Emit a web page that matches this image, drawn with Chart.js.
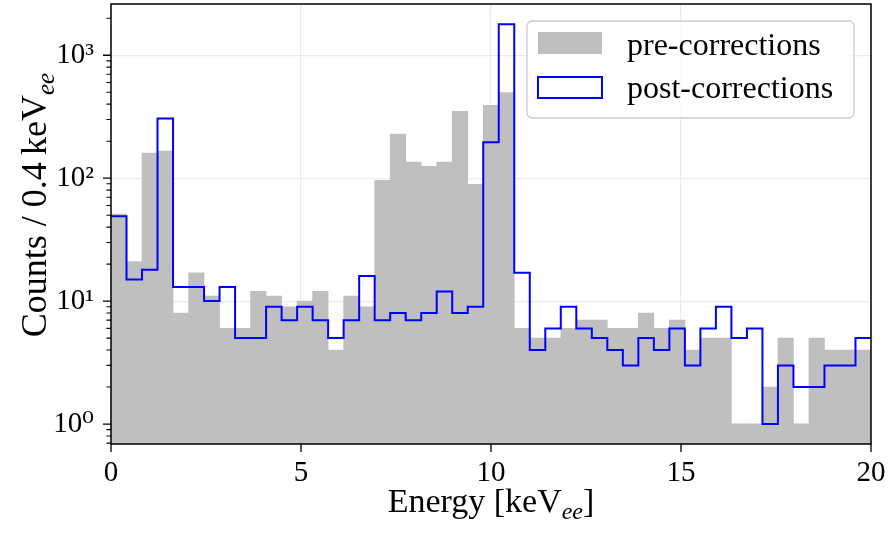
<!DOCTYPE html>
<html><head><meta charset="utf-8">
<script src="https://cdn.jsdelivr.net/npm/chart.js@4/dist/chart.umd.min.js"></script>
<style>html,body{margin:0;padding:0;background:#fff;}#wrap{width:889px;height:534px;}</style>
</head><body><div id="wrap"><canvas id="c" width="889" height="534"></canvas></div>
<script>
// ---- data ----
const X_MIN = 0, X_MAX = 20, BIN_COUNT = 49;
const PRE = [51,21,160,166,8,17,11,6,6,12,11,9,10,12,4,11,9,96,228,135,125,135,350,89,392,497,6,5,5,6,7,7,6,6,8,6,7,4,5,5,1,1,2,5,1,5,4,4,4];
const POST = [49,15,18,306,13,13,10,13,5,5,9,7,9,7,5,7,16,7,8,7,8,12,8,9,196,1786,17,4,6,9,6,5,4,3,5,4,6,3,6,9,5,6,1,3,2,2,3,3,5];
const SERIES_LABELS = ['pre-corrections', 'post-corrections'];
const X_TICKS = [0, 5, 10, 15, 20];
const Y_TICKS = [1, 10, 100, 1000];
const Y_TICK_LABELS = ['10\u2070', '10\u00b9', '10\u00b2', '10\u00b3'];
const Y_MINOR = [0.7,0.8,0.9,2,3,4,5,6,7,8,9,20,30,40,50,60,70,80,90,200,300,400,500,600,700,800,900,2000];
const Y_RANGE = [0.688, 2612];
const X_TITLE = ['Energy [keV', 'ee', ']'];
const Y_TITLE = ['Counts / 0.4\u2009keV', 'ee', ''];

const BW = (X_MAX - X_MIN) / BIN_COUNT;
const edge = i => X_MIN + i * BW;

const FONT = "'Liberation Serif', 'DejaVu Serif', serif";
const GRAY = '#bfbfbf', BLUE = '#0000ff';

function drawSubText(ctx, parts, size, subSize) {
  ctx.font = size + 'px ' + FONT;
  const w1 = ctx.measureText(parts[0]).width;
  const w3 = ctx.measureText(parts[2]).width;
  ctx.font = 'italic ' + subSize + 'px ' + FONT;
  const w2 = ctx.measureText(parts[1]).width;
  const total = w1 + w2 + w3;
  let x = -total / 2;
  ctx.textBaseline = 'alphabetic'; ctx.textAlign = 'left';
  ctx.font = size + 'px ' + FONT; ctx.fillText(parts[0], x, 0); x += w1;
  ctx.font = 'italic ' + subSize + 'px ' + FONT; ctx.fillText(parts[1], x, size * 0.22); x += w2;
  ctx.font = size + 'px ' + FONT; ctx.fillText(parts[2], x, 0);
}

const decor = {
  id: 'decor',
  afterDraw(chart) {
    const ctx = chart.ctx, a = chart.chartArea;
    const xs = chart.scales.x, ys = chart.scales.y;
    ctx.save();
    // spines
    ctx.strokeStyle = '#000'; ctx.lineWidth = 1.5;
    ctx.strokeRect(a.left, a.top, a.right - a.left, a.bottom - a.top);
    // ticks
    ctx.lineWidth = 1.3;
    ctx.beginPath();
    X_TICKS.forEach(v => { const p = xs.getPixelForValue(v); ctx.moveTo(p, a.bottom); ctx.lineTo(p, a.bottom + 8); });
    Y_TICKS.forEach(v => { const p = ys.getPixelForValue(v); ctx.moveTo(a.left, p); ctx.lineTo(a.left - 8, p); });
    ctx.stroke();
    ctx.lineWidth = 1.1;
    ctx.beginPath();
    Y_MINOR.forEach(v => { if (v < Y_RANGE[0] || v > Y_RANGE[1]) return; const p = ys.getPixelForValue(v); ctx.moveTo(a.left, p); ctx.lineTo(a.left - 4.5, p); });
    ctx.stroke();
    // axis titles
    ctx.fillStyle = '#000';
    ctx.save(); ctx.translate((a.left + a.right) / 2, 512); drawSubText(ctx, X_TITLE, 34, 24); ctx.restore();
    ctx.save(); ctx.translate(46, 205); ctx.rotate(-Math.PI / 2); drawSubText(ctx, Y_TITLE, 36, 25); ctx.restore();
    // legend
    const lx = a.right - 17, ly = a.top + 17, lw = 327, lh = 97;
    const bx = lx - lw, by = ly;
    ctx.beginPath();
    ctx.roundRect(bx, by, lw, lh, 5);
    ctx.fillStyle = 'rgba(255,255,255,0.8)'; ctx.fill();
    ctx.strokeStyle = '#cccccc'; ctx.lineWidth = 1.3; ctx.stroke();
    ctx.fillStyle = GRAY; ctx.fillRect(bx + 11, by + 11, 64, 22);
    ctx.strokeStyle = BLUE; ctx.lineWidth = 2; ctx.strokeRect(bx + 11, by + 56, 64, 21);
    ctx.fillStyle = '#000'; ctx.font = '32px ' + FONT; ctx.textAlign = 'left'; ctx.textBaseline = 'alphabetic';
    ctx.fillText(chart.data.datasets[0].label, bx + 100, by + 34);
    ctx.fillText(chart.data.datasets[1].label, bx + 100, by + 77);
    ctx.restore();
  }
};

const gridColor = '#ebebeb';
new Chart(document.getElementById('c'), {
  type: 'bar',
  data: {
    datasets: [
      {
        type: 'bar', label: SERIES_LABELS[0],
        data: PRE.map((v, i) => ({ x: edge(i) + BW / 2, y: v })),
        backgroundColor: GRAY, borderWidth: 0, barPercentage: 1, categoryPercentage: 1, grouped: false, order: 2
      },
      {
        type: 'line', label: SERIES_LABELS[1],
        data: POST.map((v, i) => ({ x: edge(i), y: v })).concat([{ x: X_MAX, y: POST[POST.length - 1] }]),
        stepped: 'before', borderColor: BLUE, borderWidth: 2, pointRadius: 0, fill: false, order: 1,
        borderJoinStyle: 'miter'
      }
    ]
  },
  options: {
    responsive: false, animation: false, devicePixelRatio: 1,
    layout: { padding: { top: 4, right: 18, left: 0, bottom: 0 } },
    plugins: { legend: { display: false }, tooltip: { enabled: false } },
    scales: {
      x: {
        type: 'linear', min: X_MIN, max: X_MAX, bounds: 'data', offset: false,
        afterBuildTicks: s => { s.ticks = X_TICKS.map(v => ({ value: v })); },
        afterFit: s => { s.height = 90; s.paddingLeft = 0; s.paddingRight = 0; },
        grid: { color: gridColor, lineWidth: 1.2, drawTicks: false, offset: false },
        border: { display: false },
        ticks: { font: { family: FONT, size: 29 }, color: '#000', padding: 12, maxRotation: 0, autoSkip: false }
      },
      y: {
        type: 'logarithmic', min: Y_RANGE[0], max: Y_RANGE[1], bounds: 'data',
        afterBuildTicks: s => { s.ticks = Y_TICKS.map(v => ({ value: v, major: true })); },
        afterFit: s => { s.width = 111; s.paddingTop = 0; s.paddingBottom = 0; },
        grid: { color: gridColor, lineWidth: 1.2, drawTicks: false },
        border: { display: false },
        ticks: {
          font: { family: FONT, size: 29 }, color: '#000', padding: 17, autoSkip: false,
          callback: v => { const k = Y_TICKS.indexOf(v); return k >= 0 ? Y_TICK_LABELS[k] : ''; }
        }
      }
    }
  },
  plugins: [decor]
});
</script></body></html>
